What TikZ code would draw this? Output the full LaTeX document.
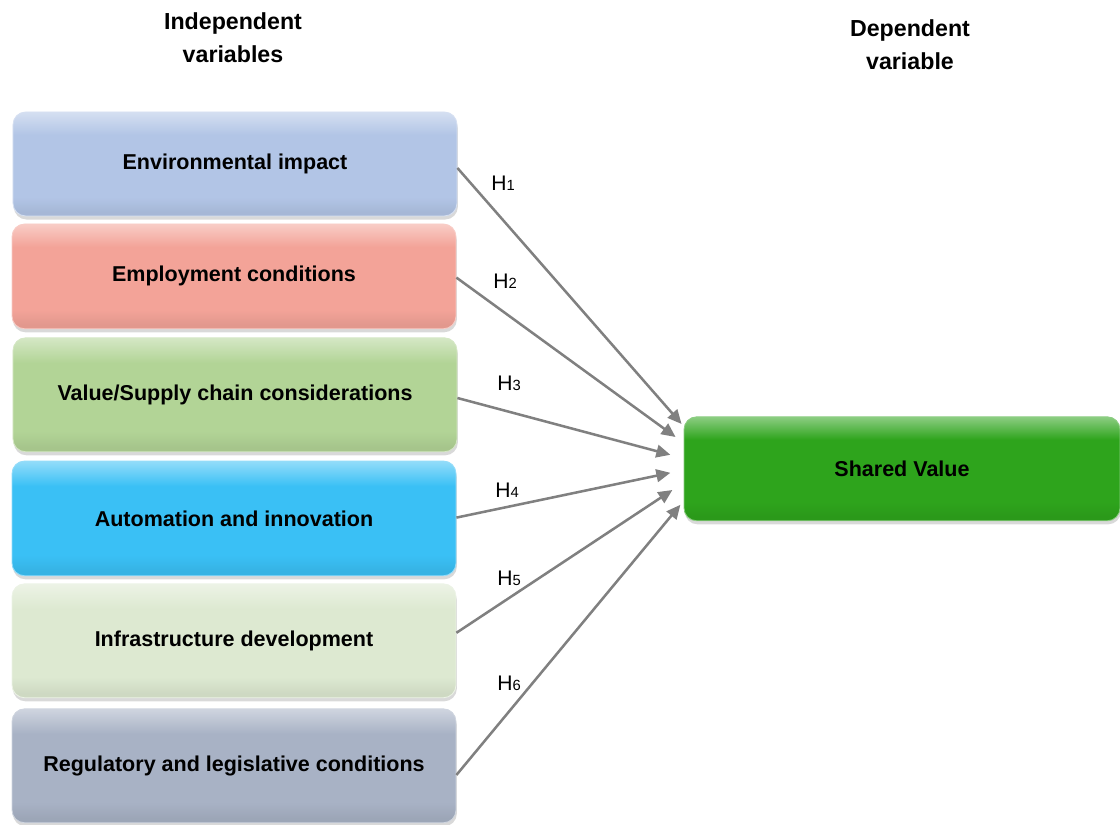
\documentclass[tikz,border=0pt]{standalone}
\usepackage{fontspec}
\setmainfont{Liberation Sans}
\usepackage{tikz}
\usetikzlibrary{
  arrows.meta,
  positioning,
  shadows,
  calc
}
\definecolor{envblue}{RGB}{178,197,230}
\definecolor{emppink}{RGB}{243,163,152}
\definecolor{chaingreen}{RGB}{178,212,150}
\definecolor{autoblue}{RGB}{58,192,245}
\definecolor{infragreen}{RGB}{221,233,209}
\definecolor{reggray}{RGB}{168,178,197}
\definecolor{sharedgreen}{RGB}{46,164,28}
\definecolor{linkgray}{RGB}{128,128,128}
\colorlet{varlight}{white}
\colorlet{varbase}{gray}
\colorlet{vardark}{gray}
\pgfdeclareverticalshading[varlight,varbase,vardark]{bevel}{100bp}{
  color(0bp)=(vardark); color(27bp)=(vardark); color(34bp)=(varbase);
  color(64bp)=(varbase); color(75bp)=(varlight); color(100bp)=(varlight)}
\newcommand{\hyp}[1]{H{\fontsize{10.5}{12}\selectfont #1}}

\begin{document}
\begin{tikzpicture}[
  varbox/.style={rounded corners=9pt, minimum width=11.1cm, align=center,
    /utils/exec={\colorlet{varbase}{#1}\colorlet{varlight}{#1!55!white}\colorlet{vardark}{#1!93!black}},
    shading=bevel, draw=#1!55!white, line width=0.6pt,
    font=\fontsize{15.3}{18}\selectfont\bfseries,
    drop shadow={opacity=0.3, shadow xshift=0.6pt, shadow yshift=-2.5pt}},
  hlink/.style={-{Triangle[length=10pt,width=9pt]}, draw=linkgray, line width=1.8pt},
  hlabel/.style={font=\fontsize{15}{18}\selectfont},
  heading/.style={align=center, font=\fontsize{16.5}{23.5}\selectfont\bfseries}
]
  \useasboundingbox (0,0) rectangle (28,20.6);

  % headings
  \node[heading] (indep) at (5.825,19.65) {Independent\\variables};
  \node[heading] (dep) at (22.75,19.475) {Dependent\\variable};

  % independent variables
  \node[varbox=envblue, minimum height=2.6cm] (env) at (5.875,16.5) {Environmental impact};
  \node[varbox=emppink, minimum height=2.62cm] (emp) at (5.85,13.69) {Employment conditions};
  \node[varbox=chaingreen, minimum height=2.85cm] (chain) at (5.875,10.73) {Value/Supply chain considerations};
  \node[varbox=autoblue, minimum height=2.87cm] (auto) at (5.85,7.64) {Automation and innovation};
  \node[varbox=infragreen, minimum height=2.85cm] (infra) at (5.85,4.58) {Infrastructure development};
  \node[varbox=reggray, minimum height=2.85cm] (reg) at (5.85,1.455) {Regulatory and legislative conditions};

  % dependent variable
  \node[varbox=sharedgreen, minimum width=10.9cm, minimum height=2.6cm] (shared) at (22.55,8.88) {Shared Value};

  % arrow ends on the shared value box
  \coordinate (t1) at ([shift={(-0.05,1.12)}]shared.west);
  \coordinate (t2) at ([shift={(-0.2,0.795)}]shared.west);
  \coordinate (t3) at ([shift={(-0.33,0.35)}]shared.west);
  \coordinate (t4) at ([shift={(-0.33,-0.1)}]shared.west);
  \coordinate (t5) at ([shift={(-0.28,-0.53)}]shared.west);
  \coordinate (t6) at ([shift={(-0.08,-0.9)}]shared.west);

  \draw[hlink] ([yshift=-0.1cm]env.east) -- (t1);
  \draw[hlink] ([yshift=-0.03cm]emp.east) -- (t2);
  \draw[hlink] ([yshift=-0.08cm]chain.east) -- (t3);
  \draw[hlink] ([yshift=0.02cm]auto.east) -- (t4);
  \draw[hlink] ([yshift=0.2cm]infra.east) -- (t5);
  \draw[hlink] ([yshift=-0.23cm]reg.east) -- (t6);

  % hypothesis labels
  \node[hlabel] (h1) at (12.575,16.025) {\hyp{1}};
  \node[hlabel] (h2) at (12.625,13.575) {\hyp{2}};
  \node[hlabel] (h3) at (12.725,11.025) {\hyp{3}};
  \node[hlabel] (h4) at (12.675,8.35) {\hyp{4}};
  \node[hlabel] (h5) at (12.725,6.15) {\hyp{5}};
  \node[hlabel] (h6) at (12.725,3.525) {\hyp{6}};
\end{tikzpicture}
\end{document}
